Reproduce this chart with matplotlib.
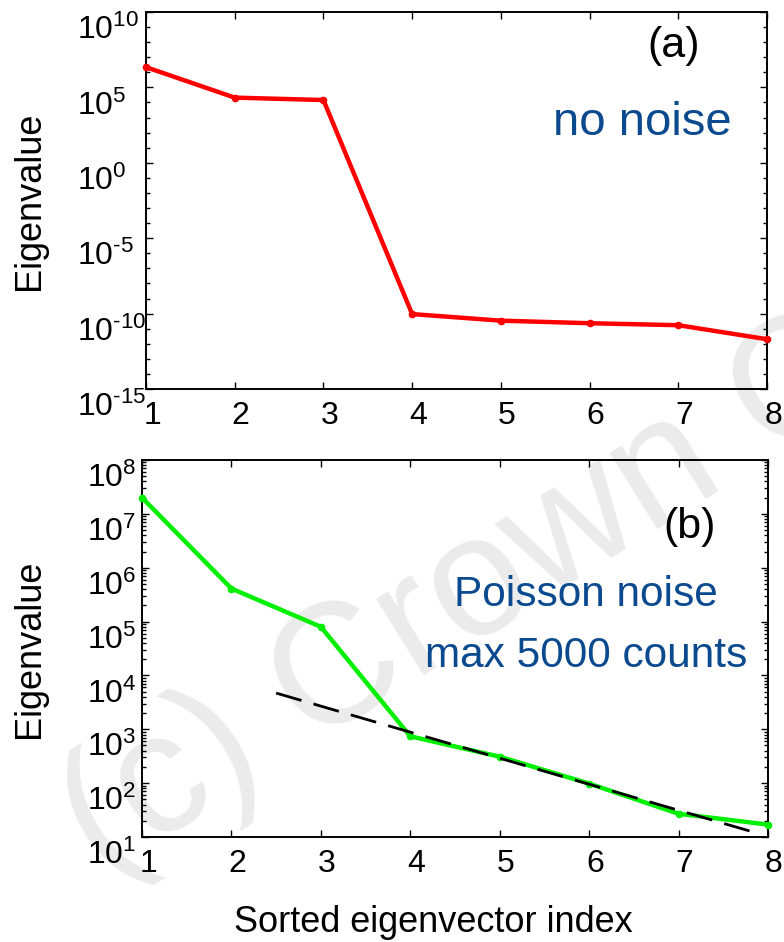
import numpy as np
import matplotlib
matplotlib.use("Agg")
import matplotlib.pyplot as plt
from matplotlib.transforms import ScaledTranslation
from matplotlib.ticker import NullFormatter

plt.rcParams['font.family'] = ['Liberation Sans', 'DejaVu Sans']
plt.rcParams['mathtext.fontset'] = 'custom'
plt.rcParams['mathtext.rm'] = 'Liberation Sans'
plt.rcParams['mathtext.it'] = 'Liberation Sans'
plt.rcParams['mathtext.bf'] = 'Liberation Sans'
plt.rcParams['mathtext.default'] = 'rm'

# ---- data ----
index = [1, 2, 3, 4, 5, 6, 7, 8]
eig_no_noise = [2.2e6, 2.1e4, 1.45e4, 9.3e-11, 3.4e-11, 2.3e-11, 1.7e-11, 2.0e-12]
eig_poisson = [2.0e7, 4.1e5, 8.0e4, 7.4e2, 3.1e2, 98, 27, 17]
fit_x = [2.5, 7.9]
fit_y = [4.7e3, 11.5]

top_major_exp = [-15, -10, -5, 0, 5, 10]
top_minor_exp = [k for k in range(-15, 11) if k % 5]
bot_major_exp = [1, 2, 3, 4, 5, 6, 7, 8]
x_ticks = [1, 2, 3, 4, 5, 6, 7, 8]

title_a = "(a)"
title_b = "(b)"
note_a = "no noise"
note_b1 = "Poisson noise"
note_b2 = "max 5000 counts"
ylab = "Eigenvalue"
xlab = "Sorted eigenvector index"
watermark = "(c) Crown Copyright"

RED = "#ff0000"
GREEN = "#00f000"
BLUE = "#0b4a8f"

W, H = 784, 942
fig = plt.figure(figsize=(W / 100, H / 100), dpi=100)


def frac(l, t, r, b):
    return [l / W, 1 - b / H, (r - l) / W, (b - t) / H]


def exp_label(k):
    e = str(k) if k >= 0 else r"\text{-}" + str(-k)
    return r"$10^{%s}$" % e


ax1 = fig.add_axes(frac(146, 12, 767, 389))
ax2 = fig.add_axes(frac(142, 460, 768, 837))

for ax in (ax1, ax2):
    ax.set_facecolor('none')
    for s in ax.spines.values():
        s.set_linewidth(1.4)
    ax.set_yscale('log')
    ax.set_xlim(1, 8)
    ax.set_xticks(x_ticks)
    ax.set_xticklabels([str(v) for v in x_ticks])
    ax.tick_params(which='both', direction='in', top=True, right=True,
                   width=1.0)
    ax.tick_params(axis='x', labelsize=23, pad=9)
    ax.tick_params(axis='y', labelsize=23, pad=0)
    ax.tick_params(which='major', length=5)
    ax.tick_params(which='minor', length=3)

# top panel
ax1.plot(index, eig_no_noise, color=RED, lw=3.2, marker='o', ms=4.5,
         solid_joinstyle='round', clip_on=False, zorder=3)
ax1.set_ylim(1e-15, 1e10)
ax1.set_yticks([10.0 ** k for k in top_major_exp])
ax1.set_yticklabels([exp_label(k) for k in top_major_exp])
ax1.set_yticks([10.0 ** k for k in top_minor_exp], minor=True)
ax1.yaxis.set_minor_formatter(NullFormatter())
ax1.text(0.849, 0.881, title_a, transform=ax1.transAxes, ha='center',
         va='baseline', fontsize=31, color='black')
ax1.text(0.799, 0.674, note_a, transform=ax1.transAxes, ha='center',
         va='baseline', fontsize=34, color=BLUE)

# bottom panel
ax2.plot(fit_x, fit_y, color='black', lw=2.0, dashes=(9.5, 4.5), zorder=4)
ax2.plot(index, eig_poisson, color=GREEN, lw=3.2, marker='o', ms=4.5,
         solid_joinstyle='round', clip_on=False, zorder=3)
ax2.set_ylim(1e1, 1e8)
ax2.set_yticks([10.0 ** k for k in bot_major_exp])
ax2.set_yticklabels([exp_label(k) for k in bot_major_exp])
minors = [m * 10.0 ** k for k in range(1, 8) for m in range(2, 10)]
ax2.set_yticks(minors, minor=True)
ax2.yaxis.set_minor_formatter(NullFormatter())
ax2.text(0.874, 0.793, title_b, transform=ax2.transAxes, ha='center',
         va='baseline', fontsize=31, color='black')
ax2.text(0.709, 0.613, note_b1, transform=ax2.transAxes, ha='center',
         va='baseline', fontsize=30.5, color=BLUE)
ax2.text(0.709, 0.451, note_b2, transform=ax2.transAxes, ha='center',
         va='baseline', fontsize=30.5, color=BLUE)

ax1.set_ylabel(ylab, fontsize=26, va='center')
ax1.yaxis.set_label_coords((30 - 146) / 621, 0.5)
ax2.set_ylabel(ylab, fontsize=26, va='center')
ax2.yaxis.set_label_coords((30 - 142) / 626, 0.5)

fig.text(433 / W, 1 - 932 / H, xlab, ha='center', va='baseline', fontsize=26)

# watermark
fig.text(100 / W, 1 - 877 / H, watermark, fontsize=123,
         color='#ebebeb', rotation=32, rotation_mode='anchor',
         ha='left', va='baseline', zorder=-5)

fig.canvas.draw()
dx = ScaledTranslation(6 / 100, 0, fig.dpi_scale_trans)
for ax, left_px in ((ax1, 77), (ax2, 87)):
    spine_px = ax.get_position().x0 * W
    dyl = ScaledTranslation(-(spine_px - left_px) / 100, -15 / 100,
                            fig.dpi_scale_trans)
    for t in ax.yaxis.get_major_ticks():
        t.label1.set_horizontalalignment('left')
        t.label1.set_transform(t.label1.get_transform() + dyl)
    for t in ax.xaxis.get_major_ticks():
        t.label1.set_transform(t.label1.get_transform() + dx)

fig.savefig("out.png", dpi=100)
